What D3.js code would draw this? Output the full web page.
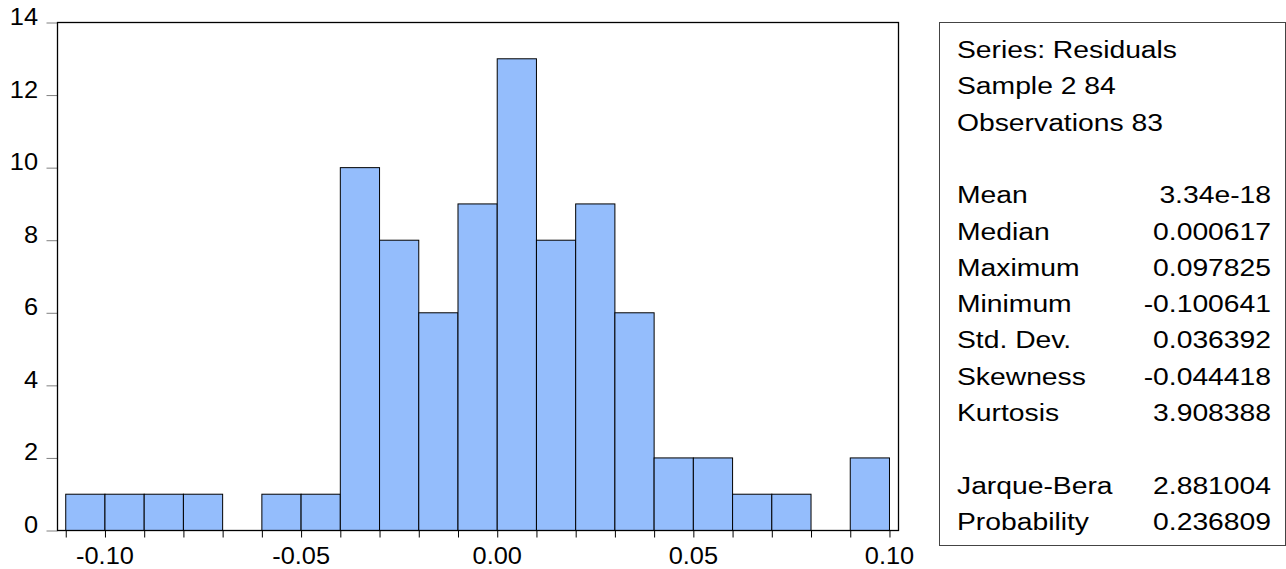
<!DOCTYPE html>
<html>
<head>
<meta charset="utf-8">
<script src="https://cdn.jsdelivr.net/npm/d3@7"></script>
<style>
  body { margin: 0; background: #fff; }
  text { font-family: "Liberation Sans", Arial, sans-serif; fill: #000; }
</style>
</head>
<body>
<div id="chart"></div>
<script>
////////////////////////////////////////////////////////////////
// Data

// left edge of each histogram bin, bins are 0.01 wide
const binLo = [-0.11, -0.10, -0.09, -0.08, -0.07, -0.06, -0.05, -0.04, -0.03, -0.02, -0.01,
               0.00, 0.01, 0.02, 0.03, 0.04, 0.05, 0.06, 0.07, 0.08, 0.09]
const binWidth = 0.01
const counts = [1, 1, 1, 1, 0, 1, 1, 10, 8, 6, 9, 13, 8, 9, 6, 2, 2, 1, 1, 0, 2]

// minor ticks on every bin edge
const binEdges = [-0.11, -0.10, -0.09, -0.08, -0.07, -0.06, -0.05, -0.04, -0.03, -0.02, -0.01,
                  0.00, 0.01, 0.02, 0.03, 0.04, 0.05, 0.06, 0.07, 0.08, 0.09, 0.10]
const xTicks = [-0.10, -0.05, 0.00, 0.05, 0.10]
const xTickLabels = ["-0.10", "-0.05", "0.00", "0.05", "0.10"]
const yTicks = [0, 2, 4, 6, 8, 10, 12, 14]

const statsHeader = ["Series: Residuals", "Sample 2 84", "Observations 83"]
const statsLabels = ["Mean", "Median", "Maximum", "Minimum", "Std. Dev.", "Skewness", "Kurtosis"]
const statsValues = ["3.34e-18", "0.000617", "0.097825", "-0.100641", "0.036392", "-0.044418", "3.908388"]
const testLabels = ["Jarque-Bera", "Probability"]
const testValues = ["2.881004", "0.236809"]

////////////////////////////////////////////////////////////////
// Setup

const W = 1286, H = 569
const plot = { left: 57.5, right: 898.5, top: 22.5, bottom: 530.5 }

let svg = d3.select("#chart").append("svg")
  .attr("width", W)
  .attr("height", H)

let x = d3.scaleLinear()
  .domain([-0.1121, 0.1023])
  .range([plot.left, plot.right])

let y = d3.scaleLinear()
  .domain([0, 14])
  .range([plot.bottom, plot.top])

// text helper: the picture's text is slightly stretched sideways
function label(px, py, str, anchor, size, sx) {
  svg.append("text")
    .attr("transform", `translate(${px},${py}) scale(${sx},1)`)
    .attr("text-anchor", anchor)
    .style("font-size", size + "px")
    .text(str)
}

////////////////////////////////////////////////////////////////
// Histogram bars

svg.append("g")
  .selectAll("rect")
  .data(binLo.map((d, i) => ({ lo: d, n: counts[i] })).filter(d => d.n > 0))
  .enter()
  .append("rect")
  .attr("x", d => x(d.lo))
  .attr("y", d => y(d.n))
  .attr("width", d => x(d.lo + binWidth) - x(d.lo))
  .attr("height", d => y(0) - y(d.n))
  .attr("fill", "#94bdfc")
  .attr("stroke", "#000")
  .attr("stroke-width", 1)

////////////////////////////////////////////////////////////////
// Axes

// y ticks (grey, outside left)
let yAxis = svg.append("g")
  .attr("transform", `translate(${plot.left},0)`)
  .call(d3.axisLeft(y).tickValues(yTicks).tickSize(11).tickFormat(""))
yAxis.select(".domain").remove()
yAxis.selectAll("line").attr("stroke", "#808080")

yTicks.forEach(t => label(38, y(t) + 2.5, String(t), "end", 23.5, 1.08))

// x ticks on every bin edge
let xAxis = svg.append("g")
  .attr("transform", `translate(0,${plot.bottom})`)
  .call(d3.axisBottom(x).tickValues(binEdges).tickSize(7).tickFormat(""))
xAxis.select(".domain").remove()
xAxis.selectAll("line").attr("stroke", "#000")

xTicks.forEach((t, i) => label(x(t), 564, xTickLabels[i], "middle", 23.5, 1.08))

// frame
svg.append("rect")
  .attr("x", plot.left)
  .attr("y", plot.top)
  .attr("width", plot.right - plot.left)
  .attr("height", plot.bottom - plot.top)
  .attr("fill", "none")
  .attr("stroke", "#000")
  .attr("stroke-width", 1.3)

////////////////////////////////////////////////////////////////
// Statistics box

svg.append("rect")
  .attr("x", 939.5)
  .attr("y", 22.5)
  .attr("width", 1285.5 - 939.5)
  .attr("height", 545.5 - 22.5)
  .attr("fill", "none")
  .attr("stroke", "#444")
  .attr("stroke-width", 1)

const lineH = 36.3, base = 58, textX = 957, valX = 1271
const fs = 23, sx = 1.23

statsHeader.forEach((s, i) => label(textX, base + i * lineH, s, "start", fs, sx))
statsLabels.forEach((s, i) => {
  label(textX, base + (i + 4) * lineH, s, "start", fs, sx)
  label(valX, base + (i + 4) * lineH, statsValues[i], "end", fs, sx)
})
testLabels.forEach((s, i) => {
  label(textX, base + (i + 12) * lineH, s, "start", fs, sx)
  label(valX, base + (i + 12) * lineH, testValues[i], "end", fs, sx)
})
</script>
</body>
</html>
